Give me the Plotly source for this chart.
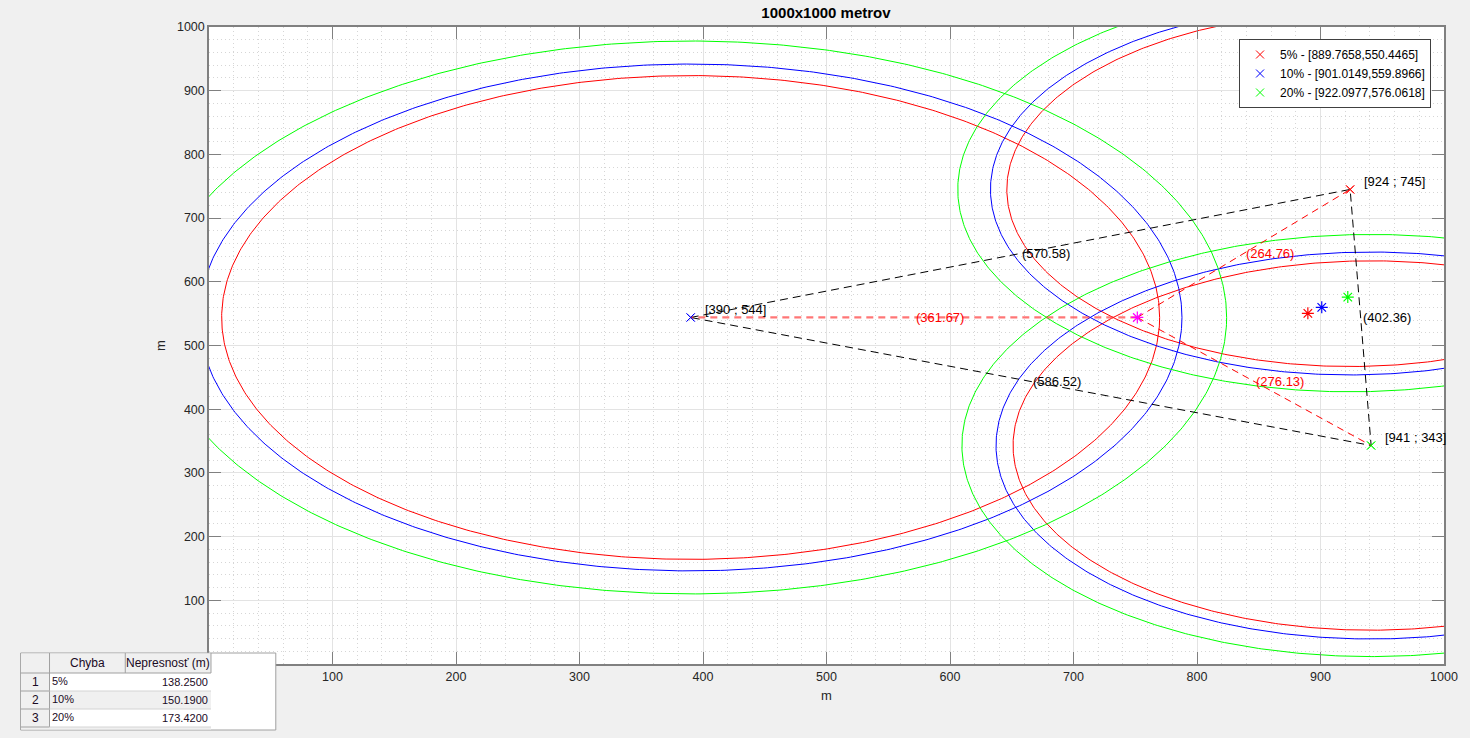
import numpy as np
import plotly.graph_objects as go

# ---------------- data ----------------
node_x = [390, 924, 941]
node_y = [544, 745, 343]
true_x = 751.67
true_y = 544
err_names = ["5%", "10%", "20%"]
est_x = [889.7658, 901.0149, 922.0977]
est_y = [550.4465, 559.8966, 576.0618]
meas_dist = [361.67, 264.76, 276.13]          # true point -> node A, B, C
side_len = [570.58, 402.36, 586.52]           # A-B, B-C, C-A
radii_5 = [379.75, 278.00, 289.94]
radii_10 = [397.84, 291.24, 303.74]
radii_20 = [434.00, 317.71, 331.36]
table_err = ["5%", "10%", "20%"]
table_inacc = [138.25, 150.19, 173.42]
tick_vals = [100, 200, 300, 400, 500, 600, 700, 800, 900, 1000]  # 0 hidden under the table

colors = ["#ff0000", "#0000ff", "#00ff00"]
legend_node = [1, 0, 2]   # node carrying the legend 'x' marker for each error level

FONT = "Liberation Sans, Arial, Helvetica, sans-serif"
W, H = 1470, 738
ML, MR, MT, MB = 209, 22, 27, 74
PW = W - ML - MR
PH = H - MT - MB


def px2x(px):
    return (px - ML) / PW


def py2y(py):
    return (H - MB - py) / PH


fig = go.Figure()

# legend traces (node 'x' markers)
for k in range(3):
    i = legend_node[k]
    fig.add_trace(go.Scatter(
        x=[node_x[i]], y=[node_y[i]], mode="markers",
        marker=dict(symbol="x-thin-open", size=8, color=colors[k],
                    line=dict(width=1, color=colors[k])),
        name=f"{err_names[k]} - [{est_x[k]:.4f},{est_y[k]:.4f}]",
        showlegend=True))

# circles
t = np.linspace(0, 2 * np.pi, 721)
for k, radii in enumerate([radii_5, radii_10, radii_20]):
    for i in range(3):
        fig.add_trace(go.Scatter(
            x=node_x[i] + radii[i] * np.cos(t),
            y=node_y[i] + radii[i] * np.sin(t),
            mode="lines", line=dict(color=colors[k], width=1),
            showlegend=False, hoverinfo="skip"))

# triangle between nodes
fig.add_trace(go.Scatter(
    x=node_x + [node_x[0]], y=node_y + [node_y[0]], mode="lines",
    line=dict(color="black", width=1, dash="8px,5px"),
    showlegend=False, hoverinfo="skip"))

# red dashed lines true point -> nodes
fig.add_trace(go.Scatter(
    x=[true_x, node_x[0]], y=[true_y, node_y[0]], mode="lines",
    line=dict(color="rgba(255,60,60,0.7)", width=2.2, dash="7px,5px"),
    showlegend=False, hoverinfo="skip"))
for i in [1, 2]:
    fig.add_trace(go.Scatter(
        x=[true_x, node_x[i]], y=[true_y, node_y[i]], mode="lines",
        line=dict(color="#ff0000", width=1, dash="7px,5px"),
        showlegend=False, hoverinfo="skip"))

# node markers (re-drawn on top)
for k in range(3):
    i = legend_node[k]
    fig.add_trace(go.Scatter(
        x=[node_x[i]], y=[node_y[i]], mode="markers",
        marker=dict(symbol="x-thin-open", size=8, color=colors[k],
                    line=dict(width=1, color=colors[k])),
        showlegend=False, hoverinfo="skip"))

# estimated positions and true position
fig.add_trace(go.Scatter(
    x=est_x, y=est_y, mode="markers",
    marker=dict(symbol="asterisk-open", size=10, color=colors,
                line=dict(width=1.2, color=colors)),
    showlegend=False, hoverinfo="skip"))
fig.add_trace(go.Scatter(
    x=[true_x], y=[true_y], mode="markers",
    marker=dict(symbol="asterisk-open", size=10, color="#ff00ff",
                line=dict(width=1.2, color="#ff00ff")),
    showlegend=False, hoverinfo="skip"))

ann = []
# node labels
for i in range(3):
    ann.append(dict(x=node_x[i] + 10, y=node_y[i] + 12, xref="x", yref="y",
                    text=f"[{node_x[i]} ; {node_y[i]}]", showarrow=False,
                    xanchor="left", yanchor="middle",
                    font=dict(family=FONT, size=13, color="black")))
# side lengths
pairs = [(0, 1), (1, 2), (2, 0)]
for (a, b), d in zip(pairs, side_len):
    ann.append(dict(x=(node_x[a] + node_x[b]) / 2, y=(node_y[a] + node_y[b]) / 2,
                    xref="x", yref="y", text=f"({d:.2f})", showarrow=False,
                    xanchor="left", yanchor="middle",
                    font=dict(family=FONT, size=13, color="black")))
# measured distances
for i, d in enumerate(meas_dist):
    ann.append(dict(x=(true_x + node_x[i]) / 2, y=(true_y + node_y[i]) / 2,
                    xref="x", yref="y", text=f"({d:.2f})", showarrow=False,
                    xanchor="left", yanchor="middle",
                    font=dict(family=FONT, size=13, color="#ff0000")))

# ---------------- table (uitable look) ----------------
shapes = []
GRAYBG = "#f0f0f0"
LINE = "#a0a0a0"
SEP = "#d4d4d4"


def rect(x0, y0, x1, y1, fill, line=None, lw=0):
    shapes.append(dict(type="rect", xref="paper", yref="paper",
                       x0=px2x(x0), x1=px2x(x1), y0=py2y(y1), y1=py2y(y0),
                       fillcolor=fill, layer="above",
                       line=dict(color=line or fill, width=lw)))


def hline(x0, x1, y, color):
    shapes.append(dict(type="line", xref="paper", yref="paper",
                       x0=px2x(x0), x1=px2x(x1), y0=py2y(y), y1=py2y(y),
                       layer="above", line=dict(color=color, width=1)))


def vline(x, y0, y1, color):
    shapes.append(dict(type="line", xref="paper", yref="paper",
                       x0=px2x(x), x1=px2x(x), y0=py2y(y0), y1=py2y(y1),
                       layer="above", line=dict(color=color, width=1)))


TX0, TX1, TY0, TY1 = 20, 276, 653, 730
COLX = [20, 49, 125, 211]
ROWY = [653, 673, 691, 709, 727]
rect(TX0, TY0, TX1, TY1, "white", LINE, 1)
rect(COLX[0] + 0.5, ROWY[0] + 0.5, COLX[3], ROWY[1], GRAYBG)
rect(COLX[0] + 0.5, ROWY[1], COLX[1], ROWY[4], GRAYBG)
rect(COLX[1], ROWY[2], COLX[3], ROWY[3], GRAYBG)
rect(COLX[0] + 0.5, ROWY[4], COLX[3], TY1 - 0.5, GRAYBG)
for x in COLX[1:]:
    vline(x, ROWY[0], ROWY[1], LINE)
vline(COLX[1], ROWY[1], ROWY[4], LINE)
hline(COLX[0], COLX[3], ROWY[1], LINE)
for y in ROWY[2:5]:
    hline(COLX[0], COLX[1], y, LINE)
    hline(COLX[1], COLX[3], y, SEP)

TFONT = dict(family=FONT, size=12, color="#1a0a24")
for text, c0, c1 in [("Chyba", COLX[1], COLX[2]), ("Nepresnosť (m)", COLX[2], COLX[3])]:
    ann.append(dict(x=px2x((c0 + c1) / 2), y=py2y((ROWY[0] + ROWY[1]) / 2),
                    xref="paper", yref="paper", text=text, showarrow=False,
                    xanchor="center", yanchor="middle", font=TFONT))
for r in range(3):
    yc = py2y((ROWY[r + 1] + ROWY[r + 2]) / 2)
    ann.append(dict(x=px2x((COLX[0] + COLX[1]) / 2), y=yc, xref="paper", yref="paper",
                    text=str(r + 1), showarrow=False, xanchor="center",
                    yanchor="middle", font=TFONT))
    ann.append(dict(x=px2x(COLX[1] + 0.5), y=yc + 1.5 / PH, xref="paper", yref="paper",
                    text=table_err[r], showarrow=False, xanchor="left",
                    yanchor="middle", font=dict(family=FONT, size=11, color="#1a0a24")))
    ann.append(dict(x=px2x(COLX[3] - 0.5), y=yc, xref="paper", yref="paper",
                    text=f"{table_inacc[r]:.4f}", showarrow=False, xanchor="right",
                    yanchor="middle", font=dict(family=FONT, size=11, color="#1a0a24")))

axis_common = dict(
    range=[0, 1000], tickvals=tick_vals, ticks="inside", ticklen=12,
    tickcolor="#808080", tickwidth=1,
    showline=True, linecolor="#808080", linewidth=1.5, mirror="allticks",
    showgrid=True, gridcolor="#e3e3e3", gridwidth=1, zeroline=False,
    tickfont=dict(family=FONT, size=12.5, color="#262626"),
    minor=dict(dtick=20, showgrid=True, gridcolor="#d6d6d6",
               griddash="1px,3px", gridwidth=1, ticks=""),
    fixedrange=True,
)

fig.update_layout(
    width=W, height=H,
    margin=dict(l=ML, r=MR, t=MT, b=MB, pad=0),
    paper_bgcolor="#f0f0f0", plot_bgcolor="white",
    font=dict(family=FONT, size=12, color="#262626"),
    title=dict(text="<b>1000x1000 metrov</b>", x=px2x(828), xref="paper",
               xanchor="center", y=1 - 13 / H, yref="container", yanchor="middle",
               font=dict(family=FONT, size=15, color="black")),
    xaxis=dict(**axis_common,
               title=dict(text="m", standoff=8,
                          font=dict(family=FONT, size=13, color="#262626"))),
    yaxis=dict(**axis_common,
               title=dict(text="m", standoff=8,
                          font=dict(family=FONT, size=13, color="#262626"))),
    legend=dict(x=px2x(1435), xanchor="right", y=py2y(39), yanchor="top",
                bgcolor="white", bordercolor="#404040", borderwidth=1,
                font=dict(family=FONT, size=12, color="black"),
                itemsizing="trace"),
    showlegend=True,
    annotations=ann,
    shapes=shapes,
)

fig.write_html(
    "out.html",
    config={"displayModeBar": False},
    post_script="document.body.style.margin='0';document.body.style.padding='0';"
                "document.body.style.overflow='hidden';",
)
